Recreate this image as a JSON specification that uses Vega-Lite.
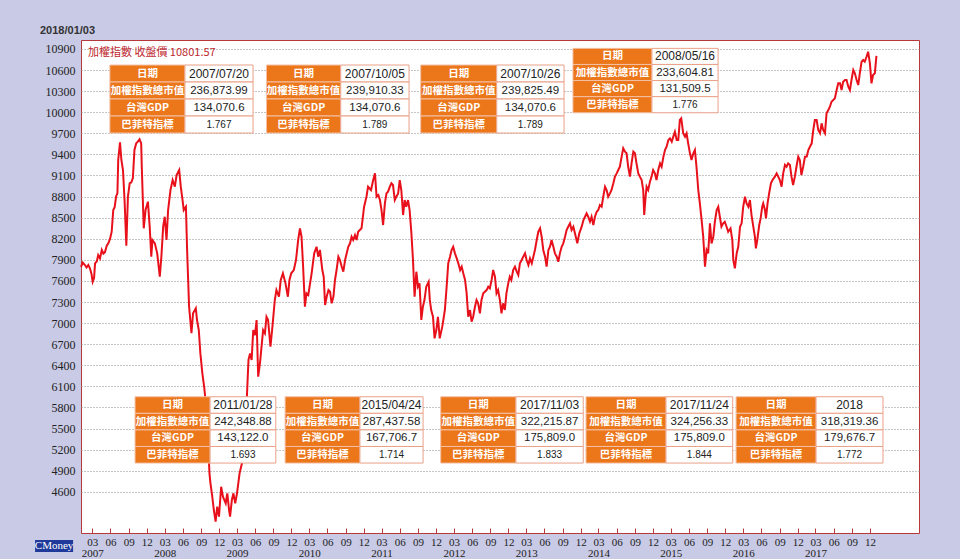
{
"$schema":"https://vega.github.io/schema/vega-lite/v6.json",
"width":838,"height":493,
"autosize":{"type":"none"},
"padding":{"left":81,"top":40,"right":41,"bottom":26},
"background":"#c8cae6",
"title":{"text":"2018/01/03","anchor":"start","frame":"group","dx":-41,"offset":4,"font":"Liberation Sans","fontSize":11,"fontWeight":"bold","color":"#333333"},
"config":{"view":{"fill":"#ffffff","stroke":"#b73838","strokeWidth":1},
 "axis":{"labelOverlap":false,"labelFont":"Liberation Serif","labelFontSize":12,"labelColor":"#222222","domain":false,"title":null},
 "axisX":{"grid":false,"tickColor":"#b73838","tickSize":-5,"labelPadding":8,"labelFontSize":11,"labelLineHeight":11,"labelBound":false,"labelFlush":false},
 "axisY":{"grid":true,"gridDash":[1,2],"gridColor":"#8c8c8c","ticks":false,"labelPadding":6}},
"datasets":{
"idx":[
{"d":"2007-01-03","v":7800},{"d":"2007-01-12","v":7860},{"d":"2007-01-22","v":7830},{"d":"2007-01-31","v":7790},{"d":"2007-02-09","v":7826},{"d":"2007-02-17","v":7780},{"d":"2007-02-25","v":7700},{"d":"2007-03-03","v":7588},{"d":"2007-03-10","v":7640},{"d":"2007-03-15","v":7850},{"d":"2007-03-24","v":7880},{"d":"2007-03-31","v":7968},{"d":"2007-04-09","v":7920},{"d":"2007-04-18","v":8040},{"d":"2007-04-26","v":7990},{"d":"2007-05-04","v":8010},{"d":"2007-05-13","v":8100},{"d":"2007-05-21","v":8135},{"d":"2007-05-30","v":8200},{"d":"2007-06-07","v":8300},{"d":"2007-06-15","v":8608},{"d":"2007-06-22","v":8650},{"d":"2007-06-29","v":8797},{"d":"2007-07-06","v":8850},{"d":"2007-07-10","v":9320},{"d":"2007-07-19","v":9571},{"d":"2007-07-26","v":9320},{"d":"2007-08-03","v":9177},{"d":"2007-08-11","v":8750},{"d":"2007-08-20","v":8100},{"d":"2007-08-28","v":8797},{"d":"2007-09-06","v":8990},{"d":"2007-09-14","v":9000},{"d":"2007-09-22","v":9063},{"d":"2007-09-30","v":9462},{"d":"2007-10-09","v":9557},{"d":"2007-10-17","v":9580},{"d":"2007-10-26","v":9614},{"d":"2007-11-03","v":9557},{"d":"2007-11-06","v":9224},{"d":"2007-11-16","v":8348},{"d":"2007-11-25","v":8608},{"d":"2007-12-07","v":8727},{"d":"2007-12-16","v":8371},{"d":"2007-12-24","v":7945},{"d":"2007-12-30","v":8182},
{"d":"2008-01-11","v":8135},{"d":"2008-01-23","v":7992},{"d":"2008-02-05","v":7660},{"d":"2008-02-13","v":7945},{"d":"2008-02-22","v":8371},{"d":"2008-03-01","v":8513},{"d":"2008-03-10","v":8182},{"d":"2008-03-18","v":8608},{"d":"2008-03-30","v":8893},{"d":"2008-04-10","v":9035},{"d":"2008-04-21","v":8940},{"d":"2008-04-30","v":9106},{"d":"2008-05-13","v":9177},{"d":"2008-05-21","v":8940},{"d":"2008-05-30","v":8750},{"d":"2008-06-05","v":8608},{"d":"2008-06-16","v":8655},{"d":"2008-06-22","v":8040},{"d":"2008-07-02","v":7233},{"d":"2008-07-14","v":6855},{"d":"2008-07-22","v":7139},{"d":"2008-08-05","v":7210},{"d":"2008-08-11","v":7044},{"d":"2008-08-20","v":6901},{"d":"2008-08-28","v":6569},{"d":"2008-09-07","v":6285},{"d":"2008-09-16","v":6095},{"d":"2008-09-23","v":5906},{"d":"2008-10-04","v":5432},{"d":"2008-10-13","v":4863},{"d":"2008-10-18","v":4721},{"d":"2008-10-26","v":4555},{"d":"2008-11-04","v":4341},{"d":"2008-11-13","v":4175},{"d":"2008-11-21","v":4388},{"d":"2008-11-30","v":4246},{"d":"2008-12-11","v":4672},{"d":"2008-12-20","v":4530},
{"d":"2009-01-03","v":4436},{"d":"2009-01-11","v":4578},{"d":"2009-01-20","v":4341},{"d":"2009-01-25","v":4246},{"d":"2009-02-03","v":4483},{"d":"2009-02-11","v":4578},{"d":"2009-02-20","v":4436},{"d":"2009-03-01","v":4578},{"d":"2009-03-14","v":4863},{"d":"2009-03-26","v":5005},{"d":"2009-04-03","v":5150},{"d":"2009-04-20","v":5953},{"d":"2009-04-28","v":6475},{"d":"2009-05-06","v":6569},{"d":"2009-05-14","v":6475},{"d":"2009-05-22","v":6901},{"d":"2009-05-31","v":6830},{"d":"2009-06-08","v":7044},{"d":"2009-06-16","v":6237},{"d":"2009-06-25","v":6427},{"d":"2009-07-03","v":6664},{"d":"2009-07-11","v":6901},{"d":"2009-07-20","v":6854},{"d":"2009-07-28","v":7090},{"d":"2009-08-05","v":7044},{"d":"2009-08-17","v":6664},{"d":"2009-08-27","v":6949},{"d":"2009-09-08","v":7328},{"d":"2009-09-16","v":7470},{"d":"2009-09-29","v":7375},{"d":"2009-10-08","v":7613},{"d":"2009-10-19","v":7708},{"d":"2009-11-01","v":7565},{"d":"2009-11-13","v":7375},{"d":"2009-11-21","v":7613},{"d":"2009-11-30","v":7708},{"d":"2009-12-13","v":7755},{"d":"2009-12-24","v":7897},
{"d":"2010-01-04","v":8182},{"d":"2010-01-13","v":8348},{"d":"2010-01-21","v":8229},{"d":"2010-01-29","v":7802},{"d":"2010-02-07","v":7233},{"d":"2010-02-15","v":7423},{"d":"2010-02-24","v":7400},{"d":"2010-03-13","v":7708},{"d":"2010-03-26","v":7992},{"d":"2010-04-07","v":8086},{"d":"2010-04-15","v":7945},{"d":"2010-04-24","v":8040},{"d":"2010-05-06","v":7755},{"d":"2010-05-13","v":7660},{"d":"2010-05-20","v":7257},{"d":"2010-05-28","v":7375},{"d":"2010-06-06","v":7470},{"d":"2010-06-14","v":7446},{"d":"2010-06-22","v":7281},{"d":"2010-07-01","v":7375},{"d":"2010-07-09","v":7613},{"d":"2010-07-17","v":7755},{"d":"2010-07-26","v":7945},{"d":"2010-08-03","v":7897},{"d":"2010-08-12","v":7802},{"d":"2010-08-20","v":7731},{"d":"2010-08-29","v":7897},{"d":"2010-09-14","v":8086},{"d":"2010-09-23","v":8135},{"d":"2010-10-01","v":8229},{"d":"2010-10-09","v":8182},{"d":"2010-10-18","v":8253},{"d":"2010-10-26","v":8182},{"d":"2010-11-03","v":8300},{"d":"2010-11-20","v":8348},{"d":"2010-12-03","v":8655},{"d":"2010-12-15","v":8797},{"d":"2010-12-23","v":8940},
{"d":"2011-01-07","v":8893},{"d":"2011-01-18","v":9035},{"d":"2011-01-27","v":9130},{"d":"2011-02-04","v":8797},{"d":"2011-02-13","v":8821},{"d":"2011-02-21","v":8750},{"d":"2011-03-01","v":8608},{"d":"2011-03-09","v":8395},{"d":"2011-03-18","v":8703},{"d":"2011-03-26","v":8845},{"d":"2011-04-03","v":8869},{"d":"2011-04-12","v":8940},{"d":"2011-04-20","v":8988},{"d":"2011-04-28","v":8964},{"d":"2011-05-07","v":8750},{"d":"2011-05-15","v":8797},{"d":"2011-05-24","v":8845},{"d":"2011-06-01","v":9035},{"d":"2011-06-09","v":8893},{"d":"2011-06-18","v":8537},{"d":"2011-06-26","v":8750},{"d":"2011-07-04","v":8655},{"d":"2011-07-13","v":8750},{"d":"2011-07-21","v":8608},{"d":"2011-07-30","v":8277},{"d":"2011-08-07","v":7897},{"d":"2011-08-15","v":7375},{"d":"2011-08-24","v":7731},{"d":"2011-09-01","v":7518},{"d":"2011-09-09","v":7565},{"d":"2011-09-18","v":7044},{"d":"2011-09-26","v":7233},{"d":"2011-10-04","v":7328},{"d":"2011-10-13","v":7518},{"d":"2011-10-25","v":7588},{"d":"2011-10-31","v":7328},{"d":"2011-11-07","v":7186},{"d":"2011-11-16","v":7090},{"d":"2011-11-24","v":6783},{"d":"2011-12-03","v":6901},{"d":"2011-12-11","v":7090},{"d":"2011-12-20","v":6783},
{"d":"2012-01-02","v":6949},{"d":"2012-01-15","v":7186},{"d":"2012-01-24","v":7518},{"d":"2012-02-01","v":7850},{"d":"2012-02-10","v":7945},{"d":"2012-02-18","v":8040},{"d":"2012-02-26","v":8086},{"d":"2012-03-06","v":7992},{"d":"2012-03-15","v":7920},{"d":"2012-03-23","v":7850},{"d":"2012-04-01","v":7755},{"d":"2012-04-09","v":7802},{"d":"2012-04-17","v":7708},{"d":"2012-04-26","v":7613},{"d":"2012-05-04","v":7423},{"d":"2012-05-12","v":7090},{"d":"2012-05-21","v":7186},{"d":"2012-05-29","v":7020},{"d":"2012-06-06","v":7090},{"d":"2012-06-15","v":7233},{"d":"2012-06-23","v":7328},{"d":"2012-07-01","v":7281},{"d":"2012-07-10","v":7139},{"d":"2012-07-18","v":7328},{"d":"2012-07-27","v":7423},{"d":"2012-08-04","v":7446},{"d":"2012-08-13","v":7470},{"d":"2012-08-21","v":7518},{"d":"2012-08-29","v":7494},{"d":"2012-09-07","v":7613},{"d":"2012-09-15","v":7755},{"d":"2012-09-24","v":7660},{"d":"2012-10-02","v":7423},{"d":"2012-10-10","v":7470},{"d":"2012-10-19","v":7328},{"d":"2012-10-27","v":7139},{"d":"2012-11-04","v":7281},{"d":"2012-11-13","v":7186},{"d":"2012-11-21","v":7423},{"d":"2012-11-30","v":7565},{"d":"2012-12-08","v":7660},{"d":"2012-12-16","v":7613},{"d":"2012-12-25","v":7755},
{"d":"2013-01-03","v":7802},{"d":"2013-01-12","v":7731},{"d":"2013-01-20","v":7684},{"d":"2013-01-28","v":7850},{"d":"2013-02-06","v":7897},{"d":"2013-02-14","v":7945},{"d":"2013-02-23","v":7992},{"d":"2013-03-03","v":7897},{"d":"2013-03-12","v":7826},{"d":"2013-03-20","v":7920},{"d":"2013-03-29","v":7850},{"d":"2013-04-06","v":7945},{"d":"2013-04-14","v":8040},{"d":"2013-04-23","v":8182},{"d":"2013-05-01","v":8300},{"d":"2013-05-10","v":8348},{"d":"2013-05-18","v":8229},{"d":"2013-05-26","v":8040},{"d":"2013-06-04","v":7945},{"d":"2013-06-12","v":7802},{"d":"2013-06-21","v":8040},{"d":"2013-06-29","v":8086},{"d":"2013-07-07","v":8182},{"d":"2013-07-16","v":8086},{"d":"2013-07-24","v":7992},{"d":"2013-08-02","v":7945},{"d":"2013-08-10","v":7873},{"d":"2013-08-18","v":7992},{"d":"2013-08-27","v":8086},{"d":"2013-09-04","v":8135},{"d":"2013-09-13","v":8229},{"d":"2013-09-21","v":8324},{"d":"2013-09-29","v":8371},{"d":"2013-10-08","v":8419},{"d":"2013-10-16","v":8324},{"d":"2013-10-25","v":8371},{"d":"2013-11-02","v":8277},{"d":"2013-11-14","v":8135},{"d":"2013-11-24","v":8277},{"d":"2013-12-06","v":8371},{"d":"2013-12-15","v":8466},{"d":"2013-12-23","v":8513},{"d":"2013-12-31","v":8561},
{"d":"2014-01-08","v":8513},{"d":"2014-01-17","v":8442},{"d":"2014-01-25","v":8513},{"d":"2014-02-03","v":8395},{"d":"2014-02-11","v":8513},{"d":"2014-02-20","v":8584},{"d":"2014-02-28","v":8608},{"d":"2014-03-08","v":8679},{"d":"2014-03-17","v":8655},{"d":"2014-03-25","v":8797},{"d":"2014-04-03","v":8940},{"d":"2014-04-11","v":8893},{"d":"2014-04-19","v":8797},{"d":"2014-04-28","v":8845},{"d":"2014-05-06","v":8893},{"d":"2014-05-15","v":8988},{"d":"2014-05-23","v":9083},{"d":"2014-06-01","v":9130},{"d":"2014-06-09","v":9177},{"d":"2014-06-17","v":9224},{"d":"2014-06-26","v":9367},{"d":"2014-07-04","v":9486},{"d":"2014-07-13","v":9438},{"d":"2014-07-21","v":9415},{"d":"2014-07-29","v":9224},{"d":"2014-08-07","v":9083},{"d":"2014-08-15","v":9272},{"d":"2014-08-24","v":9438},{"d":"2014-09-01","v":9415},{"d":"2014-09-09","v":9272},{"d":"2014-09-18","v":9130},{"d":"2014-09-26","v":9083},{"d":"2014-10-05","v":9035},{"d":"2014-10-13","v":8893},{"d":"2014-10-18","v":8537},{"d":"2014-10-25","v":8797},{"d":"2014-10-30","v":8940},{"d":"2014-11-07","v":8893},{"d":"2014-11-16","v":9012},{"d":"2014-11-24","v":9083},{"d":"2014-12-02","v":9177},{"d":"2014-12-11","v":9130},{"d":"2014-12-19","v":9035},{"d":"2014-12-28","v":9177},
{"d":"2015-01-06","v":9272},{"d":"2015-01-14","v":9224},{"d":"2015-01-23","v":9367},{"d":"2015-01-31","v":9462},{"d":"2015-02-08","v":9509},{"d":"2015-02-17","v":9604},{"d":"2015-02-25","v":9628},{"d":"2015-03-06","v":9580},{"d":"2015-03-14","v":9652},{"d":"2015-03-22","v":9722},{"d":"2015-03-31","v":9604},{"d":"2015-04-08","v":9604},{"d":"2015-04-16","v":9889},{"d":"2015-04-23","v":9913},{"d":"2015-05-03","v":9700},{"d":"2015-05-12","v":9652},{"d":"2015-05-20","v":9700},{"d":"2015-05-28","v":9557},{"d":"2015-06-06","v":9415},{"d":"2015-06-14","v":9320},{"d":"2015-06-23","v":9415},{"d":"2015-07-01","v":9462},{"d":"2015-07-09","v":9224},{"d":"2015-07-18","v":8893},{"d":"2015-07-26","v":8703},{"d":"2015-08-04","v":8466},{"d":"2015-08-12","v":8229},{"d":"2015-08-21","v":7802},{"d":"2015-08-29","v":8040},{"d":"2015-09-06","v":7992},{"d":"2015-09-15","v":8419},{"d":"2015-09-23","v":8133},{"d":"2015-10-02","v":8229},{"d":"2015-10-10","v":8442},{"d":"2015-10-19","v":8608},{"d":"2015-10-27","v":8655},{"d":"2015-11-04","v":8513},{"d":"2015-11-12","v":8371},{"d":"2015-11-21","v":8419},{"d":"2015-11-29","v":8442},{"d":"2015-12-08","v":8371},{"d":"2015-12-16","v":8300},{"d":"2015-12-28","v":8348},
{"d":"2016-01-06","v":8182},{"d":"2016-01-11","v":7897},{"d":"2016-01-19","v":7779},{"d":"2016-01-28","v":7992},{"d":"2016-02-05","v":8086},{"d":"2016-02-14","v":8371},{"d":"2016-02-22","v":8419},{"d":"2016-03-01","v":8655},{"d":"2016-03-10","v":8797},{"d":"2016-03-18","v":8703},{"d":"2016-03-27","v":8655},{"d":"2016-04-04","v":8750},{"d":"2016-04-12","v":8537},{"d":"2016-04-21","v":8371},{"d":"2016-04-29","v":8229},{"d":"2016-05-04","v":8064},{"d":"2016-05-11","v":8182},{"d":"2016-05-21","v":8395},{"d":"2016-05-28","v":8490},{"d":"2016-06-05","v":8655},{"d":"2016-06-10","v":8703},{"d":"2016-06-19","v":8608},{"d":"2016-06-24","v":8490},{"d":"2016-07-02","v":8703},{"d":"2016-07-10","v":8845},{"d":"2016-07-19","v":8988},{"d":"2016-07-27","v":9035},{"d":"2016-08-08","v":9083},{"d":"2016-08-17","v":9130},{"d":"2016-08-25","v":9083},{"d":"2016-09-02","v":9035},{"d":"2016-09-11","v":8940},{"d":"2016-09-19","v":9130},{"d":"2016-09-28","v":9249},{"d":"2016-10-06","v":9224},{"d":"2016-10-14","v":9272},{"d":"2016-10-23","v":9249},{"d":"2016-10-31","v":9083},{"d":"2016-11-08","v":8964},{"d":"2016-11-17","v":9083},{"d":"2016-11-25","v":9224},{"d":"2016-12-04","v":9367},{"d":"2016-12-12","v":9320},{"d":"2016-12-20","v":9106},{"d":"2016-12-29","v":9224},
{"d":"2017-01-07","v":9367},{"d":"2017-01-16","v":9370},{"d":"2017-01-24","v":9462},{"d":"2017-02-01","v":9509},{"d":"2017-02-10","v":9557},{"d":"2017-02-18","v":9747},{"d":"2017-02-26","v":9889},{"d":"2017-03-07","v":9889},{"d":"2017-03-15","v":9747},{"d":"2017-03-24","v":9700},{"d":"2017-04-01","v":9842},{"d":"2017-04-09","v":9747},{"d":"2017-04-18","v":9700},{"d":"2017-04-26","v":9984},{"d":"2017-05-05","v":10031},{"d":"2017-05-13","v":10078},{"d":"2017-05-21","v":10149},{"d":"2017-05-30","v":10173},{"d":"2017-06-07","v":10197},{"d":"2017-06-16","v":10315},{"d":"2017-06-24","v":10411},{"d":"2017-07-03","v":10411},{"d":"2017-07-11","v":10315},{"d":"2017-07-19","v":10434},{"d":"2017-07-28","v":10458},{"d":"2017-08-05","v":10458},{"d":"2017-08-14","v":10362},{"d":"2017-08-22","v":10315},{"d":"2017-08-30","v":10458},{"d":"2017-09-08","v":10600},{"d":"2017-09-16","v":10553},{"d":"2017-09-25","v":10458},{"d":"2017-10-03","v":10386},{"d":"2017-10-11","v":10553},{"d":"2017-10-20","v":10718},{"d":"2017-10-28","v":10742},{"d":"2017-11-05","v":10718},{"d":"2017-11-14","v":10789},{"d":"2017-11-22","v":10860},{"d":"2017-12-01","v":10695},{"d":"2017-12-09","v":10411},{"d":"2017-12-17","v":10529},{"d":"2017-12-26","v":10553},{"d":"2018-01-03","v":10801.57}
],
"tables":[
{"t":1,"x0":"2007-05-29","x1":"2008-06-11","x2":"2009-05-21","y0":10671,"y1":9704},
{"t":2,"x0":"2009-07-28","x1":"2010-08-07","x2":"2011-07-18","y0":10671,"y1":9704},
{"t":3,"x0":"2011-09-15","x1":"2012-10-03","x2":"2013-09-08","y0":10671,"y1":9704},
{"t":4,"x0":"2013-10-23","x1":"2014-11-26","x2":"2015-10-26","y0":10908,"y1":9992},
{"t":5,"x0":"2007-10-03","x1":"2008-10-16","x2":"2009-09-13","y0":5952,"y1":5009},
{"t":6,"x0":"2009-10-30","x1":"2010-11-12","x2":"2011-09-27","y0":5952,"y1":5009},
{"t":7,"x0":"2011-12-25","x1":"2013-01-08","x2":"2013-12-14","y0":5952,"y1":5009},
{"t":8,"x0":"2013-12-28","x1":"2015-02-05","x2":"2016-01-08","y0":5952,"y1":5009},
{"t":9,"x0":"2016-01-25","x1":"2017-03-04","x2":"2018-02-05","y0":5952,"y1":5009}
],
"cells":[
{"t":1,"r":0,"label":"日期","value":"2007/07/20"},{"t":1,"r":1,"label":"加權指數總市值","value":"236,873.99"},{"t":1,"r":2,"label":"台灣GDP","value":"134,070.6"},{"t":1,"r":3,"label":"巴菲特指標","value":"1.767"},
{"t":2,"r":0,"label":"日期","value":"2007/10/05"},{"t":2,"r":1,"label":"加權指數總市值","value":"239,910.33"},{"t":2,"r":2,"label":"台灣GDP","value":"134,070.6"},{"t":2,"r":3,"label":"巴菲特指標","value":"1.789"},
{"t":3,"r":0,"label":"日期","value":"2007/10/26"},{"t":3,"r":1,"label":"加權指數總市值","value":"239,825.49"},{"t":3,"r":2,"label":"台灣GDP","value":"134,070.6"},{"t":3,"r":3,"label":"巴菲特指標","value":"1.789"},
{"t":4,"r":0,"label":"日期","value":"2008/05/16"},{"t":4,"r":1,"label":"加權指數總市值","value":"233,604.81"},{"t":4,"r":2,"label":"台灣GDP","value":"131,509.5"},{"t":4,"r":3,"label":"巴菲特指標","value":"1.776"},
{"t":5,"r":0,"label":"日期","value":"2011/01/28"},{"t":5,"r":1,"label":"加權指數總市值","value":"242,348.88"},{"t":5,"r":2,"label":"台灣GDP","value":"143,122.0"},{"t":5,"r":3,"label":"巴菲特指標","value":"1.693"},
{"t":6,"r":0,"label":"日期","value":"2015/04/24"},{"t":6,"r":1,"label":"加權指數總市值","value":"287,437.58"},{"t":6,"r":2,"label":"台灣GDP","value":"167,706.7"},{"t":6,"r":3,"label":"巴菲特指標","value":"1.714"},
{"t":7,"r":0,"label":"日期","value":"2017/11/03"},{"t":7,"r":1,"label":"加權指數總市值","value":"322,215.87"},{"t":7,"r":2,"label":"台灣GDP","value":"175,809.0"},{"t":7,"r":3,"label":"巴菲特指標","value":"1.833"},
{"t":8,"r":0,"label":"日期","value":"2017/11/24"},{"t":8,"r":1,"label":"加權指數總市值","value":"324,256.33"},{"t":8,"r":2,"label":"台灣GDP","value":"175,809.0"},{"t":8,"r":3,"label":"巴菲特指標","value":"1.844"},
{"t":9,"r":0,"label":"日期","value":"2018"},{"t":9,"r":1,"label":"加權指數總市值","value":"318,319.36"},{"t":9,"r":2,"label":"台灣GDP","value":"179,676.7"},{"t":9,"r":3,"label":"巴菲特指標","value":"1.772"}
]
},
"layer":[
{"data":{"name":"idx"},
 "mark":{"type":"line","color":"#e8111b","strokeWidth":2},
 "encoding":{
  "x":{"field":"d","type":"temporal","title":null,
   "scale":{"domain":[{"year":2007,"month":1,"date":3},{"year":2018,"month":8,"date":6}]},
   "axis":{"labelOverlap":false,"tickCount":200,
    "labelExpr":"month(datum.value)==2 ? [timeFormat(datum.value,'%m'), timeFormat(datum.value,'%Y')] : timeFormat(datum.value,'%m')",
    "values":[{"year":2007,"month":3,"date":1},{"year":2007,"month":6,"date":1},{"year":2007,"month":9,"date":1},{"year":2007,"month":12,"date":1},{"year":2008,"month":3,"date":1},{"year":2008,"month":6,"date":1},{"year":2008,"month":9,"date":1},{"year":2008,"month":12,"date":1},{"year":2009,"month":3,"date":1},{"year":2009,"month":6,"date":1},{"year":2009,"month":9,"date":1},{"year":2009,"month":12,"date":1},{"year":2010,"month":3,"date":1},{"year":2010,"month":6,"date":1},{"year":2010,"month":9,"date":1},{"year":2010,"month":12,"date":1},{"year":2011,"month":3,"date":1},{"year":2011,"month":6,"date":1},{"year":2011,"month":9,"date":1},{"year":2011,"month":12,"date":1},{"year":2012,"month":3,"date":1},{"year":2012,"month":6,"date":1},{"year":2012,"month":9,"date":1},{"year":2012,"month":12,"date":1},{"year":2013,"month":3,"date":1},{"year":2013,"month":6,"date":1},{"year":2013,"month":9,"date":1},{"year":2013,"month":12,"date":1},{"year":2014,"month":3,"date":1},{"year":2014,"month":6,"date":1},{"year":2014,"month":9,"date":1},{"year":2014,"month":12,"date":1},{"year":2015,"month":3,"date":1},{"year":2015,"month":6,"date":1},{"year":2015,"month":9,"date":1},{"year":2015,"month":12,"date":1},{"year":2016,"month":3,"date":1},{"year":2016,"month":6,"date":1},{"year":2016,"month":9,"date":1},{"year":2016,"month":12,"date":1},{"year":2017,"month":3,"date":1},{"year":2017,"month":6,"date":1},{"year":2017,"month":9,"date":1},{"year":2017,"month":12,"date":1}]}},
  "y":{"field":"v","type":"quantitative","title":null,
   "scale":{"domain":[4014,11027],"nice":false,"zero":false},
   "axis":{"labelOverlap":false,"format":"d","tickCount":200,
    "values":[4600,4900,5200,5500,5800,6100,6400,6700,7000,7300,7600,7900,8200,8500,8800,9100,9400,9700,10000,10300,10600,10900]}}
 }},
{"data":{"name":"cells"},
 "transform":[
  {"lookup":"t","from":{"data":{"name":"tables"},"key":"t","fields":["x0","x1","x2","y0","y1"]}},
  {"calculate":"time(toDate(datum.x0))","as":"xa"},
  {"calculate":"time(toDate(datum.x1))","as":"xb"},
  {"calculate":"time(toDate(datum.x2))","as":"xc"},
  {"calculate":"(datum.xa+datum.xb)/2","as":"xab"},
  {"calculate":"(datum.xb+datum.xc)/2","as":"xbc"},
  {"calculate":"datum.y0-(datum.y0-datum.y1)*datum.r/4","as":"ya"},
  {"calculate":"datum.y0-(datum.y0-datum.y1)*(datum.r+1)/4","as":"yb"},
  {"calculate":"(datum.ya+datum.yb)/2","as":"ym"}
 ],
 "layer":[
  {"mark":{"type":"rect","fill":"#ec761a","stroke":"#f4c0a6","strokeWidth":1},
   "encoding":{"x":{"field":"xa","type":"temporal","title":null},"x2":{"field":"xb"},"y":{"field":"ya","type":"quantitative","title":null},"y2":{"field":"yb"}}},
  {"mark":{"type":"rect","fill":"#ffffff","stroke":"#eaa088","strokeWidth":1},
   "encoding":{"x":{"field":"xb","type":"temporal","title":null},"x2":{"field":"xc"},"y":{"field":"ya","type":"quantitative","title":null},"y2":{"field":"yb"}}},
  {"mark":{"type":"text","color":"#ffffff","font":"Noto Sans CJK TC","fontSize":10.5,"fontWeight":"bold","align":"center","baseline":"middle"},
   "encoding":{"x":{"field":"xab","type":"temporal","title":null},"y":{"field":"ym","type":"quantitative","title":null},"text":{"field":"label"}}},
  {"mark":{"type":"text","color":"#222222","font":"Liberation Sans","align":"center","baseline":"middle"},
   "encoding":{"x":{"field":"xbc","type":"temporal","title":null},"y":{"field":"ym","type":"quantitative","title":null},"text":{"field":"value"},
    "size":{"condition":[{"test":"datum.r==0","value":12},{"test":"datum.r==3","value":10}],"value":11.5}}}
 ]},
{"data":{"values":[{}]},
 "mark":{"type":"text","color":"#c0272d","font":"Noto Sans CJK TC","fontSize":11,"align":"left","baseline":"middle","text":"加權指數 收盤價 10801.57"},
 "encoding":{"x":{"datum":{"year":2007,"month":2,"date":7},"type":"temporal","title":null},"y":{"datum":10842,"type":"quantitative","title":null}}},
{"data":{"values":[{}]},
 "mark":{"type":"rect","fill":"#1f3a9a"},
 "encoding":{"x":{"datum":{"year":2006,"month":5,"date":16},"type":"temporal","title":null},"x2":{"datum":{"year":2006,"month":11,"date":24}},"y":{"datum":3914,"type":"quantitative","title":null},"y2":{"datum":3743}}},
{"data":{"values":[{}]},
 "mark":{"type":"text","color":"#ffffff","font":"Liberation Serif","fontSize":11,"align":"center","baseline":"middle","text":"CMoney"},
 "encoding":{"x":{"datum":{"year":2006,"month":8,"date":20},"type":"temporal","title":null},"y":{"datum":3828,"type":"quantitative","title":null}}}
]
}
